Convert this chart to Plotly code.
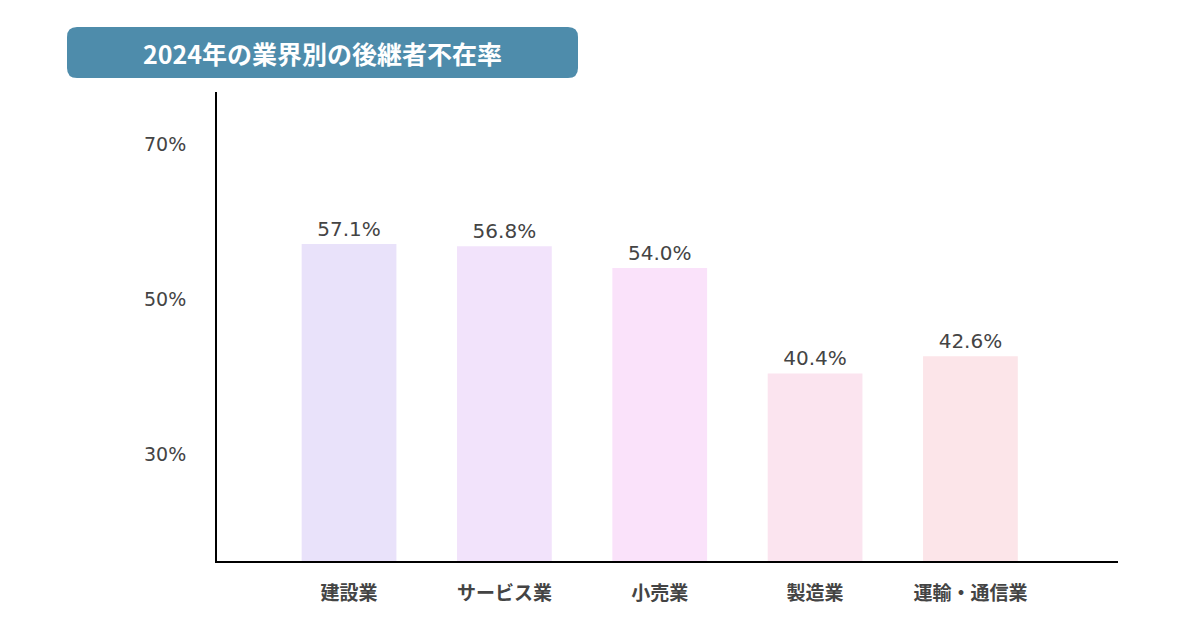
import plotly.graph_objects as go

categories = ["建設業", "サービス業", "小売業", "製造業", "運輸・通信業"]
rates = [57.1, 56.8, 54.0, 40.4, 42.6]
bar_colors = ["#E9E2FA", "#F2E3FB", "#FAE2FA", "#FBE4EF", "#FCE5E9"]
tick_vals = [30, 50, 70]
tick_text = ["30%", "50%", "70%"]
title_text = "2024年の業界別の後継者不在率"

# page body adds an 8px offset
OFF = 8
W, H = 1200 - OFF, 630 - OFF
# plot area in pixels (reference coordinates)
L, R, T, B = 217, 1118, 92, 561


def px(x, y):
    return (x - L) / (R - L), (B - y) / (B - T)


def rounded_box(x0, y0, x1, y1, r):
    def p(x, y):
        a, b = px(x, y)
        return f"{a:.5f},{b:.5f}"
    path = f"M {p(x0 + r, y0)} L {p(x1 - r, y0)} Q {p(x1, y0)} {p(x1, y0 + r)} "
    path += f"L {p(x1, y1 - r)} Q {p(x1, y1)} {p(x1 - r, y1)} "
    path += f"L {p(x0 + r, y1)} Q {p(x0, y1)} {p(x0, y1 - r)} "
    path += f"L {p(x0, y0 + r)} Q {p(x0, y0)} {p(x0 + r, y0)} Z"
    return path


x_pos = list(range(len(categories)))

fig = go.Figure(go.Bar(
    x=x_pos,
    y=rates,
    width=0.61,
    marker=dict(color=bar_colors, line=dict(width=0)),
    text=[f"{v:.1f}%" for v in rates],
    textposition="outside",
    textfont=dict(family="DejaVu Sans", size=20, color="#444444"),
    cliponaxis=False,
))

fig.add_shape(type="path", xref="paper", yref="paper",
              path=rounded_box(67, 27, 578, 78, 10),
              fillcolor="#4E8CAB", line=dict(width=0), layer="below")
tx, ty = px(322, 53)
fig.add_annotation(text=f"<b>{title_text}</b>", xref="paper", yref="paper",
                   x=tx, y=ty, xanchor="center", yanchor="middle", showarrow=False,
                   font=dict(family="Noto Sans CJK JP", size=25, color="white"))

fig.update_layout(
    width=W, height=H,
    margin=dict(l=L - OFF, r=1200 - R, t=T - OFF, b=630 - B),
    paper_bgcolor="white", plot_bgcolor="white",
    showlegend=False,
    xaxis=dict(
        range=[-0.85, 4.95],
        tickvals=x_pos, ticktext=[f"<b>{c}</b>" for c in categories],
        tickfont=dict(family="Noto Sans CJK JP", size=19, color="#444444"),
        showline=True, linecolor="black", linewidth=2,
        showgrid=False, zeroline=False, ticks="", ticklabelstandoff=14,
    ),
    yaxis=dict(
        range=[16.2, 76.7],
        tickvals=tick_vals, ticktext=tick_text,
        tickfont=dict(family="DejaVu Sans", size=19, color="#444444"),
        showline=True, linecolor="black", linewidth=2,
        showgrid=False, zeroline=False, ticks="", ticklabelstandoff=25,
    ),
)

fig.write_html("out.html")
